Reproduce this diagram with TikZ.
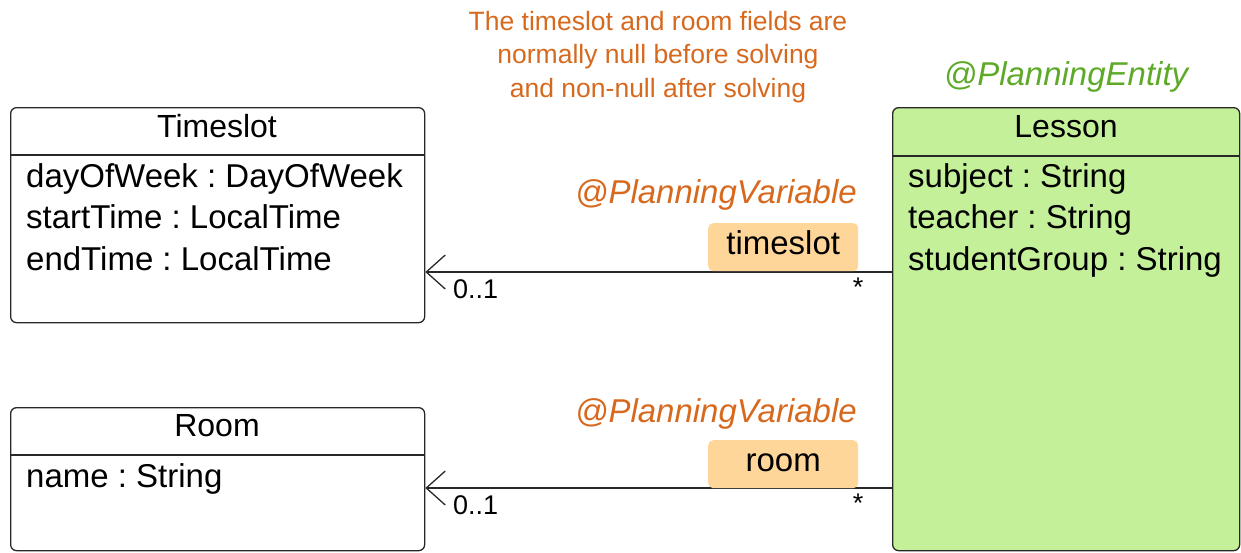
\documentclass[tikz,border=0pt]{standalone}
\usepackage{fontspec}
\setmainfont{Liberation Sans}
\usetikzlibrary{arrows.meta}
\frenchspacing
\definecolor{noteorange}{RGB}{214,105,30}
\definecolor{entgreen}{RGB}{94,170,40}
\definecolor{lessonfill}{RGB}{197,240,154}
\definecolor{labelfill}{RGB}{255,214,153}
\definecolor{edge}{RGB}{40,40,40}
\tikzset{
  classbox/.style={draw=edge, line width=1.3pt, rounded corners=6pt, rectangle, inner sep=0pt, anchor=north west},
  big/.style={font=\fontsize{33}{38}\selectfont},
  ttl/.style={font=\fontsize{32}{38}\selectfont},
  note/.style={font=\fontsize{26.5}{33.5}\selectfont, text=noteorange, align=center},
  annot/.style={font=\fontsize{33}{38}\selectfont\itshape},
  small/.style={font=\fontsize{27}{30}\selectfont},
  rolebox/.style={fill=labelfill, rounded corners=5pt, inner sep=0pt, minimum width=150pt, minimum height=48pt, text height=24pt, text depth=10pt, font=\fontsize{33}{38}\selectfont},
  assoc/.style={draw=edge, line width=1.3pt, -{Straight Barb[length=19pt,width=34pt,line width=1.3pt]}}
}
\begin{document}
\begin{tikzpicture}[x=1pt,y=-1pt]
\useasboundingbox (0,0) rectangle (1241,552);
% boxes
\node[classbox, minimum width=414pt, minimum height=215pt] (timeslot) at (10,107) {};
\node[classbox, minimum width=414pt, minimum height=143pt] (room) at (10,407) {};
\node[classbox, fill=lessonfill, minimum width=347pt, minimum height=443pt] (lesson) at (892,107) {};
% header separators
\coordinate (h1) at (0,155);
\coordinate (h2) at (0,455);
\coordinate (h3) at (0,156);
\draw[edge, line width=1.3pt] (timeslot.west |- h1) -- (timeslot.east |- h1);
\draw[edge, line width=1.3pt] (room.west |- h2) -- (room.east |- h2);
\draw[edge, line width=1.3pt] (lesson.west |- h3) -- (lesson.east |- h3);
% titles
\node[ttl, anchor=base] (tstitle) at (217,137) {Timeslot};
\node[ttl, anchor=base] (rmtitle) at (217,436) {Room};
\node[ttl, anchor=base] (lstitle) at (1066,137) {Lesson};
% attributes
\node[big, anchor=base west, inner sep=0pt] (ta1) at (26,187) {dayOfWeek : DayOfWeek};
\node[big, anchor=base west, inner sep=0pt] (ta2) at (26,228.5) {startTime : LocalTime};
\node[big, anchor=base west, inner sep=0pt] (ta3) at (26,270) {endTime : LocalTime};
\node[big, anchor=base west, inner sep=0pt] (ra1) at (26,487) {name : String};
\node[big, anchor=base west, inner sep=0pt] (la1) at (908,187) {subject : String};
\node[big, anchor=base west, inner sep=0pt] (la2) at (908,228.5) {teacher : String};
\node[big, anchor=base west, inner sep=0pt] (la3) at (908,270) {studentGroup : String};
% annotations
\node[note, anchor=base] (note) at (658,97) {The timeslot and room fields are\\normally null before solving\\and non-null after solving};
\node[annot, text=entgreen, anchor=base] (pe) at (1066,85) {@PlanningEntity};
\node[annot, text=noteorange, anchor=base east, inner sep=0pt] (pv1) at (857,203) {@PlanningVariable};
\node[annot, text=noteorange, anchor=base east, inner sep=0pt] (pv2) at (857,422) {@PlanningVariable};
% connectors
\coordinate (y1) at (0,272);
\coordinate (y2) at (0,488);
\draw[assoc] (lesson.west |- y1) -- (timeslot.east |- y1);
\draw[assoc] (lesson.west |- y2) -- (room.east |- y2);
\node[rolebox, anchor=north west] (r1) at (708,223) {timeslot};
\node[rolebox, anchor=north west] (r2) at (708,440) {room};
\node[small, anchor=base west, inner sep=0pt] (m1) at (453,298) {0..1};
\node[small, anchor=base west, inner sep=0pt] (m2) at (453,514) {0..1};
\node[small, anchor=base, inner sep=0pt] (s1) at (858,296) {*};
\node[small, anchor=base, inner sep=0pt] (s2) at (858,512) {*};
\end{tikzpicture}
\end{document}
